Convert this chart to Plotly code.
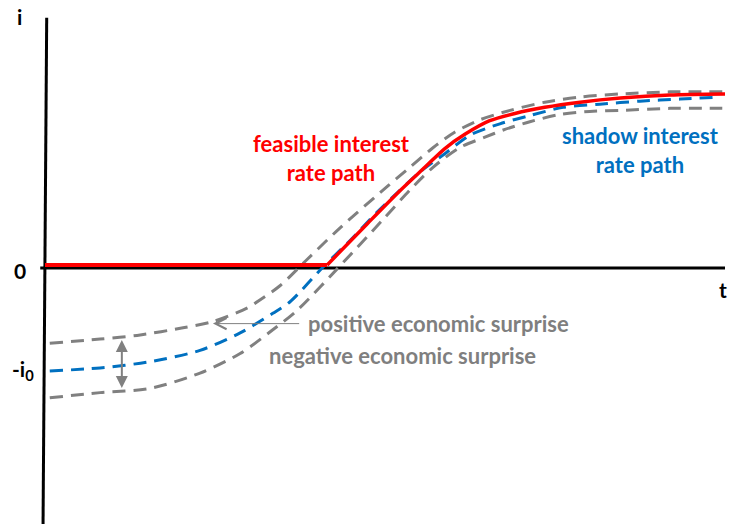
import plotly.graph_objects as go

# ---- data (t = time units, i = interest rate units, i0 = 1) ----
feasible_t = [0.00, 4.15, 4.74, 5.22, 5.59, 5.88, 6.18, 6.54, 6.91, 7.35, 7.87, 8.46, 9.19, 10.00]
feasible_i = [0.03, 0.03, 0.43, 0.75, 0.98, 1.16, 1.30, 1.43, 1.50, 1.56, 1.61, 1.65, 1.68, 1.69]

shadow_t = [0.07, 0.81, 1.54, 2.28, 2.87, 3.35, 3.60, 4.09, 4.49, 4.88, 5.18, 5.51, 5.88,
            6.25, 6.69, 7.13, 7.62, 8.16, 8.75, 9.34, 9.93]
shadow_i = [-1.00, -0.97, -0.91, -0.80, -0.63, -0.44, -0.33, 0.01, 0.27, 0.54, 0.73, 0.93, 1.11,
            1.29, 1.40, 1.48, 1.56, 1.59, 1.62, 1.64, 1.66]

positive_t = [0.07, 0.81, 1.40, 2.03, 2.47, 2.97, 3.16, 3.46, 3.85, 4.34, 5.03, 5.37, 5.71,
              6.03, 6.40, 6.84, 7.35, 7.87, 8.46, 9.19, 9.96]
positive_i = [-0.73, -0.69, -0.65, -0.58, -0.52, -0.39, -0.31, -0.17, 0.08, 0.39, 0.79, 0.98, 1.17,
              1.32, 1.44, 1.53, 1.61, 1.66, 1.69, 1.71, 1.71]

negative_t = [0.07, 0.81, 1.54, 2.28, 2.87, 3.35, 3.71, 4.38, 4.97, 5.37, 5.71, 6.10, 6.47,
              6.74, 7.13, 7.57, 8.01, 8.46, 9.19, 9.96]
negative_i = [-1.26, -1.21, -1.17, -1.02, -0.83, -0.60, -0.41, 0.05, 0.47, 0.76, 0.98, 1.17, 1.27,
              1.34, 1.42, 1.49, 1.52, 1.53, 1.55, 1.55]

t_axis = [-0.07, 10.00]
i_axis = [2.43, -2.60]
y_axis_t = [0.025, -0.03]

# arrows
spread_arrow_t = 1.13
spread_arrow_i = [-0.70, -1.18]
pos_arrow_t = [2.47, 3.76]
pos_arrow_i = -0.54

RED = "#FF0000"
BLUE = "#0070C0"
GRAY = "#808080"
TGRAY = "#7F7F7F"
FONT = "Lato"

fig = go.Figure()

# axes
fig.add_trace(go.Scatter(x=t_axis, y=[0, 0], mode="lines",
                         line=dict(color="black", width=3), hoverinfo="skip"))
fig.add_trace(go.Scatter(x=y_axis_t, y=i_axis, mode="lines",
                         line=dict(color="black", width=3), hoverinfo="skip"))

# scenario paths
dash = "13px,8px"
fig.add_trace(go.Scatter(x=positive_t, y=positive_i, mode="lines",
                         line=dict(color=GRAY, width=3, dash=dash, shape="spline", smoothing=0.8)))
fig.add_trace(go.Scatter(x=negative_t, y=negative_i, mode="lines",
                         line=dict(color=GRAY, width=3, dash=dash, shape="spline", smoothing=0.8)))
fig.add_trace(go.Scatter(x=shadow_t, y=shadow_i, mode="lines",
                         line=dict(color=BLUE, width=3, dash=dash, shape="spline", smoothing=0.8)))
# feasible path: flat part then rising part
fig.add_trace(go.Scatter(x=feasible_t[:2], y=feasible_i[:2], mode="lines",
                         line=dict(color=RED, width=4)))
fig.add_trace(go.Scatter(x=feasible_t[1:], y=feasible_i[1:], mode="lines",
                         line=dict(color=RED, width=3.5, shape="spline", smoothing=0.8)))

ann = []
lab = dict(family=FONT, size=21, color="black", weight="bold")
ann.append(dict(x=-0.38, y=2.44, text="i", showarrow=False, font=lab,
                xanchor="center", yanchor="middle"))
ann.append(dict(x=-0.37, y=-0.02, text="0", showarrow=False, font=lab,
                xanchor="center", yanchor="middle"))
ann.append(dict(x=-0.33, y=-0.99, text="-i<sub>0</sub>", showarrow=False, font=lab,
                xanchor="center", yanchor="middle"))
ann.append(dict(x=9.97, y=-0.21, text="t", showarrow=False, font=lab,
                xanchor="center", yanchor="middle"))

ann.append(dict(x=4.22, y=1.07, text="feasible interest<br>rate path", showarrow=False,
                font=dict(family=FONT, size=22, color=RED, weight="bold"), align="center"))
ann.append(dict(x=8.76, y=1.15, text="shadow interest<br>rate path", showarrow=False,
                font=dict(family=FONT, size=22, color=BLUE, weight="bold"), align="center"))
ann.append(dict(x=5.79, y=-0.54, text="positive economic surprise", showarrow=False,
                font=dict(family=FONT, size=22, color=TGRAY, weight="bold")))
ann.append(dict(x=5.25, y=-0.85, text="negative economic surprise", showarrow=False,
                font=dict(family=FONT, size=22, color=TGRAY, weight="bold")))

# double arrow (spread)
ann.append(dict(x=spread_arrow_t, y=spread_arrow_i[0], ax=spread_arrow_t, ay=spread_arrow_i[1],
                xref="x", yref="y", axref="x", ayref="y", text="", showarrow=True,
                arrowhead=2, startarrowhead=2, arrowside="end+start", arrowwidth=2,
                arrowsize=1.2, startarrowsize=1.2, arrowcolor=GRAY, standoff=0, startstandoff=0))
# pointer from text
ann.append(dict(x=pos_arrow_t[0], y=pos_arrow_i, ax=pos_arrow_t[1], ay=pos_arrow_i,
                xref="x", yref="y", axref="x", ayref="y", text="", showarrow=True,
                arrowhead=5, arrowwidth=1, arrowsize=2.2, arrowcolor=GRAY, standoff=0))

fig.update_layout(
    width=731, height=524,
    margin=dict(l=0, r=0, t=0, b=0),
    paper_bgcolor="white", plot_bgcolor="white",
    showlegend=False,
    xaxis=dict(visible=False, range=[-45 / 68, (731 - 45) / 68], fixedrange=True),
    yaxis=dict(visible=False, range=[(268 - 524) / 103, 268 / 103], fixedrange=True),
    annotations=ann,
)

fig.write_html("out.html", config={"displayModeBar": False},
               post_script="document.body.style.margin='0px';document.body.style.overflow='hidden';")
